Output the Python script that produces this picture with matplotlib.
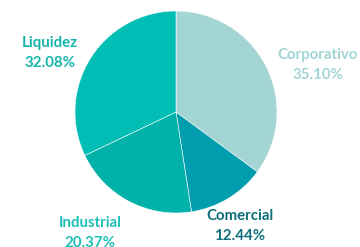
import matplotlib.pyplot as plt

labels = ["Corporativo", "Comercial", "Industrial", "Liquidez"]
shares = [35.10, 12.44, 20.37, 32.08]
colors = ["#A2D5D3", "#009DAE", "#00B2A9", "#00BDB6"]
text_colors = ["#A2D5D3", "#0E6F7A", "#1CC0B5", "#14B5AA"]
# label anchor points in pixels (x, y from top)
label_pos = [(318, 65), (240, 226), (90, 233), (50, 53)]

H = 247
fig = plt.figure(figsize=(3.6, 2.47), dpi=100)
ax = fig.add_axes([0, 0, 1, 1])

ax.pie(shares, colors=colors, startangle=90, counterclock=False,
       radius=101, center=(176, H - 112), frame=True,
       wedgeprops=dict(edgecolor="white", linewidth=0.4))
ax.set_xlim(0, 360)
ax.set_ylim(0, H)
ax.set_aspect("equal")
ax.axis("off")

for lab, val, (x, y), c in zip(labels, shares, label_pos, text_colors):
    ax.text(x, H - y, f"{lab}\n{val:.2f}%", ha="center", va="center",
            fontsize=10.8, fontweight="bold", color=c, family="Lato",
            linespacing=1.55)

fig.savefig("out.png", dpi=100)
